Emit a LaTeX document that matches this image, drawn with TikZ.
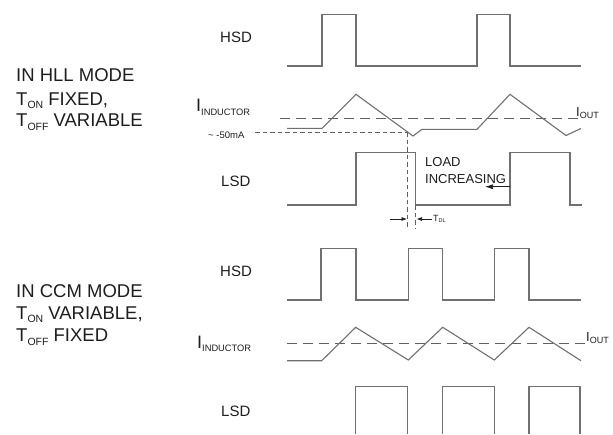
\documentclass[tikz,border=0pt]{standalone}
\usepackage{fontspec}
\setmainfont{Liberation Sans}
\usetikzlibrary{arrows.meta}
\definecolor{wavegray}{HTML}{707070}
\definecolor{dashgray}{HTML}{606060}
\definecolor{txt}{HTML}{1E1E1E}
\newcommand{\lowsub}[3]{\raisebox{-#1pt}{\fontsize{#2}{#2}\selectfont #3}}
\begin{document}
\begin{tikzpicture}[x=1pt,y=-1pt,
  wave/.style={draw=wavegray, line width=1.1pt, line join=miter},
  iout/.style={draw=dashgray, line width=0.9pt, dash pattern=on 10pt off 6pt},
  fine/.style={draw=dashgray, line width=0.7pt, dash pattern=on 4.5pt off 3pt},
  lbl/.style={inner sep=0pt, anchor=base west, text=txt, font=\fontsize{15}{18}\selectfont},
  mode/.style={inner sep=0pt, anchor=base west, text=txt, font=\fontsize{18.5}{22}\selectfont},
  small/.style={inner sep=0pt, anchor=base west, text=txt},
  bigtip/.style={-{Latex[length=8pt,width=5pt]}, draw=txt, line width=0.7pt},
  smalltip/.style={-{Latex[length=5.5pt,width=4pt]}, draw=txt, line width=0.7pt}]
\useasboundingbox (0,0) rectangle (613,434);
\fill[white] (0,0) rectangle (613,434);

% mode texts
\node[mode] (m1a) at (16,81.7) {IN HLL MODE};
\node[mode] (m1b) at (16,105) {T\lowsub{3.5}{10.5}{ON} FIXED,};
\node[mode] (m1c) at (16,126.7) {T\lowsub{3.5}{10.5}{OFF} VARIABLE};
\node[mode] (m2a) at (16,297.3) {IN CCM MODE};
\node[mode] (m2b) at (16,319.3) {T\lowsub{3.5}{10.5}{ON} VARIABLE,};
\node[mode] (m2c) at (16,341.7) {T\lowsub{3.5}{10.5}{OFF} FIXED};

% signal labels
\node[lbl] (hsd1) at (220,42.3) {HSD};
\node[lbl] (lsd1) at (221,186) {LSD};
\node[lbl] (hsd2) at (220,276) {HSD};
\node[lbl] (lsd2) at (221,416.7) {LSD};
\node[small, font=\fontsize{18}{20}\selectfont] (ind1) at (196,111.7) {I\lowsub{3.4}{9.3}{INDUCTOR}};
\node[small, font=\fontsize{18}{20}\selectfont] (ind2) at (197,348.3) {I\lowsub{3.4}{9.3}{INDUCTOR}};
\node[small, font=\fontsize{13}{15}\selectfont] (io1) at (576,116.7) {I\lowsub{1.5}{9}{OUT}};
\node[small, font=\fontsize{13}{15}\selectfont] (io2) at (586,341.7) {I\lowsub{1.5}{9}{OUT}};
\node[small, font=\fontsize{9.5}{11}\selectfont] (ma) at (208,138) {\textasciitilde\ -50mA};
\node[small, font=\fontsize{13}{15}\selectfont] (load1) at (425,166) {LOAD};
\node[small, font=\fontsize{13}{15}\selectfont] (load2) at (425,183.3) {INCREASING};
\node[small, font=\fontsize{9}{10}\selectfont] (tdl) at (433,221) {T\lowsub{1.5}{5.5}{DL}};

% ---------- HLL mode ----------
\draw[wave] (287,66) -- (322,66) -- (322,14.3) -- (356,14.3) -- (356,66) -- (477,66)
  -- (477,14.3) -- (510,14.3) -- (510,66) -- (581,66);
\draw[iout] (280,118.3) -- (581,118.3);
\draw[wave] (287,128.3) -- (322,128.3) -- (356,94.3) -- (413,136) -- (422,129.3)
  -- (477,129.3) -- (510,94.3) -- (566,135.5) -- (581,128.5);
\draw[fine] (255,132.3) -- (407.7,132.3);
\draw[wave] (287,205) -- (356,205) -- (356,152.7) -- (415.7,152.7) -- (415.7,205)
  -- (510,205) -- (510,152.7) -- (570,152.7) -- (570,205) -- (581.7,205);
\draw[fine] (407.7,132.3) -- (407.7,229);
\draw[fine] (415.7,205) -- (415.7,228);

\coordinate (la0) at (510,186.7);
\coordinate (la1) at (485,186.7);
\draw[bigtip] (la0) -- (la1);
\coordinate (ta0) at (390,219);
\coordinate (ta1) at (407,219);
\coordinate (tb0) at (431.5,219);
\coordinate (tb1) at (416.5,219);
\draw[smalltip] (ta0) -- (ta1);
\draw[smalltip] (tb0) -- (tb1);

% ---------- CCM mode ----------
\draw[wave] (287,300) -- (321,300) -- (321,248.3) -- (356,248.3) -- (356,300) -- (408.3,300)
  -- (408.3,248.3) -- (442.7,248.3) -- (442.7,300) -- (494.3,300) -- (494.3,248.3)
  -- (529,248.3) -- (529,300) -- (581,300);
\draw[iout] (287,343.3) -- (588,343.3);
\draw[wave] (287,360.7) -- (321.7,360.7) -- (355.7,327.3) -- (408.3,360) -- (442.7,327.3)
  -- (494.3,360) -- (529,327.3) -- (581,360.7);
\draw[wave] (355.7,434) -- (355.7,386.7) -- (407.7,386.7) -- (407.7,434);
\draw[wave] (442.7,434) -- (442.7,386.7) -- (494.3,386.7) -- (494.3,434);
\draw[wave] (529,434) -- (529,386.7) -- (580,386.7) -- (580,434);
\end{tikzpicture}
\end{document}
